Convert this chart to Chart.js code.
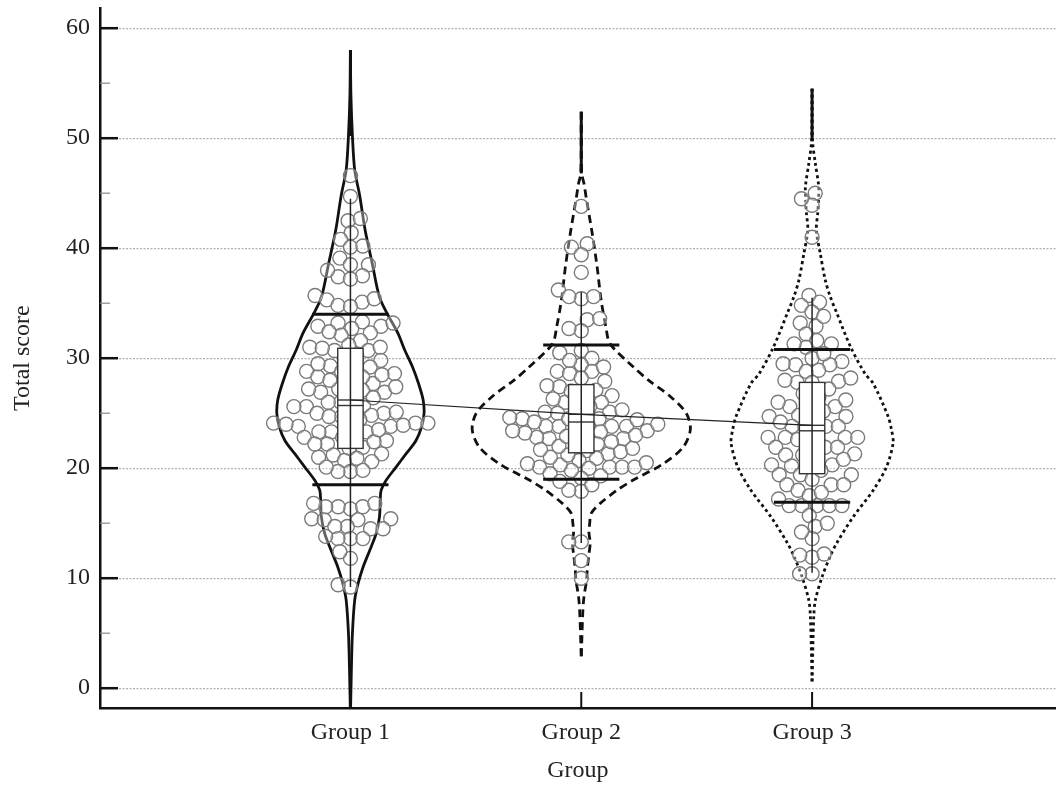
<!DOCTYPE html>
<html>
<head>
<meta charset="utf-8">
<style>
  html, body { margin: 0; padding: 0; background: #fff; overflow: hidden; }
  canvas { display: block; }
</style>
<script src="https://cdn.jsdelivr.net/npm/chart.js@4/dist/chart.umd.min.js"></script>
</head>
<body>
<canvas id="myChart" width="1064" height="789"></canvas>
<script>
// categories
const groups = ['Group 1', 'Group 2', 'Group 3'];

// individual scores
const g1Scores = [46.6, 44.7, 42.5, 42.7, 41.4, 40.8, 40.1, 40.2, 39.1, 38.5, 38.5, 37.4, 37.5, 38.0, 37.2, 35.7, 35.1, 35.3, 34.8, 34.7, 35.4,
  33.3, 32.7, 32.9, 32.9, 33.2, 33.2, 32.1, 32.3, 32.4, 31.6, 30.7, 30.7, 31.0, 31.0, 30.9, 31.2, 29.8, 30.0, 29.3, 28.6, 28.8, 28.8,
  29.2, 29.2, 27.7, 28.0, 28.3, 28.3, 26.9, 26.8, 26.9, 27.1, 27.2, 27.2, 26.0, 25.6, 25.6, 25.7, 25.0, 25.1, 25.0, 24.7, 24.7, 24.8,
  24.1, 24.1, 24.1, 23.8, 23.8, 23.8, 23.9, 23.3, 23.3, 23.3, 22.8, 22.8, 22.8, 22.2, 22.2, 22.5, 21.9, 21.3, 21.8, 21.2, 20.6, 20.7,
  20.9, 21.0, 19.7, 19.7, 19.8, 20.1, 16.3, 16.5, 16.5, 16.5, 16.8, 16.8, 15.3, 15.4, 15.4, 15.3, 14.5, 14.5, 14.7, 14.7, 13.6, 13.6,
  13.6, 13.8, 11.8, 12.4, 9.2, 9.4, 22.4, 23.5, 24.4, 25.4, 26.4, 27.4, 28.5, 29.5, 30.3, 26.0, 24.0, 28.0];
const g2Scores = [43.8, 40.4, 40.1, 39.4, 37.8, 36.2, 35.4, 35.6, 35.6, 33.5, 33.6, 32.5, 32.7, 30.7, 30.5, 30.0, 29.4, 28.8, 28.8,
  29.2, 28.6, 27.9, 27.4, 27.5, 26.9, 27.1, 26.6, 26.0, 25.9, 26.0, 25.1, 25.1, 25.0, 23.8, 23.8, 23.8, 23.8, 23.9, 24.5, 24.4, 24.5,
  24.5, 22.7, 22.7, 22.8, 22.8, 23.2, 23.3, 23.4, 23.4, 21.6, 21.3, 22.1, 22.2, 21.5, 20.7, 20.9, 20.0, 20.1, 20.1, 20.1, 20.1, 20.4,
  19.1, 17.9, 18.0, 18.5, 13.3, 13.3, 11.6, 10.0, 19.5, 19.8, 20.3, 20.5, 21.0, 21.2, 21.8, 22.0, 22.4, 23.0, 23.6, 24.0, 24.2, 24.8,
  25.3, 25.6, 26.3, 27.0, 28.2, 29.8, 19.3, 18.8, 21.7, 22.9, 24.6];
const g3Scores = [45.0, 43.9, 44.5, 41.0, 35.7, 35.1, 34.8, 34.2, 33.2, 32.9, 32.2, 31.6, 31.0, 31.3, 31.3, 29.7, 29.4, 29.4, 29.5,
  28.8, 28.9, 27.8, 27.8, 28.0, 27.9, 28.2, 26.5, 25.8, 25.6, 25.6, 24.8, 24.7, 24.7, 24.7, 23.8, 23.8, 23.8, 23.8, 22.8, 22.8, 22.6,
  22.8, 22.8, 21.9, 21.9, 21.9, 21.3, 21.2, 21.2, 21.2, 20.3, 20.3, 20.2, 20.2, 19.4, 19.4, 19.4, 19.0, 18.5, 18.5, 18.5, 18.0, 16.6,
  16.6, 16.6, 16.6, 16.6, 15.7, 14.7, 15.0, 13.6, 14.2, 11.9, 12.1, 12.2, 10.4, 10.4, 17.2, 17.5, 17.8, 26.0, 26.8, 27.2, 30.0, 30.4,
  33.8, 24.2, 23.2, 22.2, 20.8, 19.8, 25.2, 26.2];

// violin outlines: score levels and half width (in category units)
const g1Levels = [58, 54, 50.2, 47.1, 44.8, 41.6, 38.6, 35.6, 34.1, 32.3, 30.7, 29.2, 27.7, 26.2, 25.0, 23.8, 22.5, 21.3, 20.1, 18.9, 18.0, 17.1, 15.6, 14.1, 12.5, 11.0, 9.5, 8.0, 5.0, 1.9, -2.5];
const g1Width = [0, 0.002, 0.0086, 0.0185, 0.040, 0.064, 0.0945, 0.125, 0.158, 0.205, 0.236, 0.269, 0.295, 0.315, 0.319, 0.309, 0.2835, 0.2405, 0.1976, 0.1546, 0.133, 0.129, 0.126, 0.112, 0.083, 0.0545, 0.033, 0.0185, 0.0086, 0.0043, 0];
const g2Levels = [52.4, 46.8, 45.9, 44.4, 41.4, 38.3, 35.3, 32.8, 31.3, 29.2, 28.0, 26.5, 25.0, 23.5, 21.9, 20.4, 18.9, 18.0, 16.8, 15.9, 15.0, 14.2, 13.2, 12.0, 10.8, 9.8, 8.3, 6.8, 2.7];
const g2Width = [0, 0.002, 0.0116, 0.0228, 0.047, 0.0687, 0.0859, 0.107, 0.125, 0.226, 0.291, 0.387, 0.455, 0.4725, 0.441, 0.355, 0.223, 0.155, 0.082, 0.043, 0.0365, 0.033, 0.0387, 0.032, 0.026, 0.0228, 0.0116, 0.0064, 0];
const g3Levels = [54.5, 49.8, 47.7, 45.6, 44.4, 43.2, 41.6, 39.5, 37.1, 35.6, 34.1, 31.0, 28.6, 27.7, 24.7, 23.5, 22.3, 20.1, 18.0, 15.6, 13.2, 12.0, 10.1, 8.0, 6.5, 0.6];
const g3Width = [0, 0.002, 0.0142, 0.0288, 0.0279, 0.0245, 0.0185, 0.0357, 0.0571, 0.0786, 0.107, 0.1675, 0.229, 0.265, 0.3295, 0.344, 0.351, 0.322, 0.265, 0.179, 0.107, 0.0786, 0.043, 0.0142, 0.0073, 0];

// summary statistics
const means = [26.2, 24.9, 23.9];
const q1 = [21.8, 21.4, 19.5];
const medians = [25.7, 24.2, 23.4];
const q3 = [30.9, 27.6, 27.8];
const whiskLow = [9.2, 13.2, 10.5];
const whiskHigh = [44.5, 36.0, 35.5];
const sdLow = [18.5, 19.0, 16.9];
const sdHigh = [34.0, 31.2, 30.8];
const tailFrom = [50.2, 46.8, 49.8];
const tailTop = [58, 52.4, 54.5];

const yTickValues = [0, 5, 10, 15, 20, 25, 30, 35, 40, 45, 50, 55, 60];

const scores = [g1Scores, g2Scores, g3Scores];
const levels = [g1Levels, g2Levels, g3Levels];
const widths = [g1Width, g2Width, g3Width];
const dashes = [[], [8, 5], [3, 3.2]];

Chart.defaults.font.family = "'Liberation Serif', 'Times New Roman', serif";
Chart.defaults.color = '#222';

function violinSide(i, sign) {
  return levels[i].map((v, k) => ({ x: i + 1 + sign * widths[i][k], y: v }));
}

const datasets = [];
scores.forEach((s, i) => {
  datasets.push({
    data: s.map(v => ({ x: i + 1, y: v })),
    showLine: false,
    pointRadius: 7,
    pointBorderWidth: 1.4,
    pointBorderColor: '#7a7a7a',
    pointBackgroundColor: 'rgba(255,255,255,0.35)',
    order: 1
  });
});
[0, 1, 2].forEach(i => {
  [1, -1].forEach(sign => {
    datasets.push({
      data: violinSide(i, sign),
      showLine: true,
      borderColor: '#111',
      borderWidth: 2.8,
      borderDash: dashes[i],
      borderCapStyle: 'butt',
      tension: 0.3,
      pointRadius: 0,
      fill: false,
      order: 2
    });
  });
});

const overlay = {
  id: 'overlay',
  afterDatasetsDraw(chart) {
    const { ctx, scales: { x, y } } = chart;
    ctx.save();
    for (let i = 0; i < 3; i++) {
      const cx = x.getPixelForValue(i + 1);
      const bh = x.getPixelForValue(i + 1 + 0.055) - cx;
      const sh = x.getPixelForValue(i + 1 + 0.165) - cx;
      // tail
      ctx.strokeStyle = '#111';
      ctx.lineWidth = 3;
      ctx.beginPath();
      ctx.moveTo(cx, y.getPixelForValue(tailFrom[i]));
      ctx.lineTo(cx, y.getPixelForValue(tailTop[i]));
      ctx.stroke();
      // box
      const yTop = y.getPixelForValue(q3[i]);
      const yBot = y.getPixelForValue(q1[i]);
      ctx.fillStyle = '#fff';
      ctx.fillRect(cx - bh, yTop, 2 * bh, yBot - yTop);
      ctx.strokeStyle = '#333';
      ctx.lineWidth = 1.4;
      ctx.strokeRect(cx - bh, yTop, 2 * bh, yBot - yTop);
      // median and mean marks
      [medians[i], means[i]].forEach(v => {
        const py = y.getPixelForValue(v);
        ctx.beginPath();
        ctx.moveTo(cx - bh, py);
        ctx.lineTo(cx + bh, py);
        ctx.stroke();
      });
      // whisker line
      ctx.strokeStyle = '#222';
      ctx.lineWidth = 1.5;
      ctx.beginPath();
      ctx.moveTo(cx, y.getPixelForValue(whiskLow[i]));
      ctx.lineTo(cx, y.getPixelForValue(whiskHigh[i]));
      ctx.stroke();
      // sd bars
      ctx.strokeStyle = '#111';
      ctx.lineWidth = 3;
      [sdLow[i], sdHigh[i]].forEach(v => {
        const py = y.getPixelForValue(v);
        ctx.beginPath();
        ctx.moveTo(cx - sh, py);
        ctx.lineTo(cx + sh, py);
        ctx.stroke();
      });
    }
    // mean line
    ctx.strokeStyle = '#222';
    ctx.lineWidth = 1.2;
    ctx.beginPath();
    means.forEach((m, i) => {
      const px = x.getPixelForValue(i + 1);
      const py = y.getPixelForValue(m);
      if (i === 0) ctx.moveTo(px, py); else ctx.lineTo(px, py);
    });
    ctx.stroke();
    ctx.restore();
  },
  afterDraw(chart) {
    // inward tick marks
    const { ctx, chartArea, scales: { x, y } } = chart;
    ctx.save();
    yTickValues.forEach(v => {
      const major = v % 10 === 0;
      const py = y.getPixelForValue(v);
      ctx.strokeStyle = major ? '#111' : '#888';
      ctx.lineWidth = major ? 2.5 : 1.2;
      ctx.beginPath();
      ctx.moveTo(chartArea.left, py);
      ctx.lineTo(chartArea.left + (major ? 18 : 10), py);
      ctx.stroke();
    });
    groups.forEach((g, i) => {
      const px = x.getPixelForValue(i + 1);
      ctx.strokeStyle = '#111';
      ctx.lineWidth = 2;
      ctx.beginPath();
      ctx.moveTo(px, chartArea.bottom);
      ctx.lineTo(px, chartArea.bottom - 16);
      ctx.stroke();
    });
    ctx.restore();
  }
};

const ctx = document.getElementById('myChart').getContext('2d');
const myChart = new Chart(ctx, {
  type: 'scatter',
  data: { datasets: datasets },
  options: {
    responsive: false,
    animation: false,
    events: [],
    layout: { padding: { top: 8, right: 0, left: 0, bottom: 0 } },
    plugins: {
      legend: { display: false },
      tooltip: { enabled: false }
    },
    scales: {
      x: {
        type: 'linear',
        min: -0.085,
        max: 4.055,
        afterBuildTicks: (scale) => { scale.ticks = [1, 2, 3].map(v => ({ value: v })); },
        afterFit: (scale) => {
          scale.height = 81;
          scale.paddingLeft = 0;
          scale.paddingRight = 0;
        },
        ticks: {
          padding: 10,
          font: { size: 24 },
          color: '#222',
          callback: (v) => groups[v - 1]
        },
        grid: { display: false, drawTicks: false },
        border: { display: true, color: '#111', width: 2.5 },
        title: { display: true, text: 'Group', font: { size: 24 }, color: '#222', padding: { top: 0, bottom: 4 } }
      },
      y: {
        min: -1.8,
        max: 61.8,
        afterBuildTicks: (scale) => { scale.ticks = yTickValues.map(v => ({ value: v })); },
        afterFit: (scale) => {
          scale.width = 100;
          scale.paddingTop = 0;
          scale.paddingBottom = 0;
        },
        ticks: {
          padding: 10,
          font: { size: 24 },
          color: '#222',
          callback: (v) => (v % 10 === 0 ? String(v) : '')
        },
        grid: {
          drawTicks: false,
          color: (c) => (c.tick && c.tick.value % 10 === 0 ? '#b0b0b0' : 'rgba(0,0,0,0)'),
          lineWidth: 1.2
        },
        border: { display: true, color: '#111', width: 2.5, dash: [2, 1.5] },
        title: { display: true, text: 'Total score', font: { size: 24 }, color: '#222', padding: { top: 8, bottom: 0 } }
      }
    }
  },
  plugins: [overlay]
});

// stretch the plot area to the right edge of the canvas
const gap = myChart.width - myChart.chartArea.right;
if (gap > 0.5) {
  myChart.options.layout.padding.right = -gap;
  myChart.update('none');
}

// beeswarm placement of the dots, done in pixel space
function swarm(values, center, diam) {
  const xs = myChart.scales.x, ys = myChart.scales.y;
  const cx = xs.getPixelForValue(center);
  const order = values.map((v, i) => i).sort((a, b) => values[a] - values[b]);
  const placed = [];
  const out = new Array(values.length);
  order.forEach(i => {
    const py = ys.getPixelForValue(values[i]);
    const blocked = [];
    placed.forEach(p => {
      const dy = Math.abs(p.y - py);
      if (dy < diam) {
        const w = Math.sqrt(diam * diam - dy * dy);
        blocked.push([p.x - w, p.x + w]);
      }
    });
    const cands = [0];
    blocked.forEach(b => cands.push(b[0], b[1]));
    cands.sort((a, b) => Math.abs(a) - Math.abs(b));
    let off = 0;
    for (const c of cands) {
      if (blocked.every(b => c <= b[0] + 1e-6 || c >= b[1] - 1e-6)) { off = c; break; }
    }
    placed.push({ x: off, y: py });
    out[i] = { x: xs.getValueForPixel(cx + off), y: values[i] };
  });
  return out;
}

scores.forEach((s, i) => {
  myChart.data.datasets[i].data = swarm(s, i + 1, 12.5);
});
myChart.update('none');
</script>
</body>
</html>
